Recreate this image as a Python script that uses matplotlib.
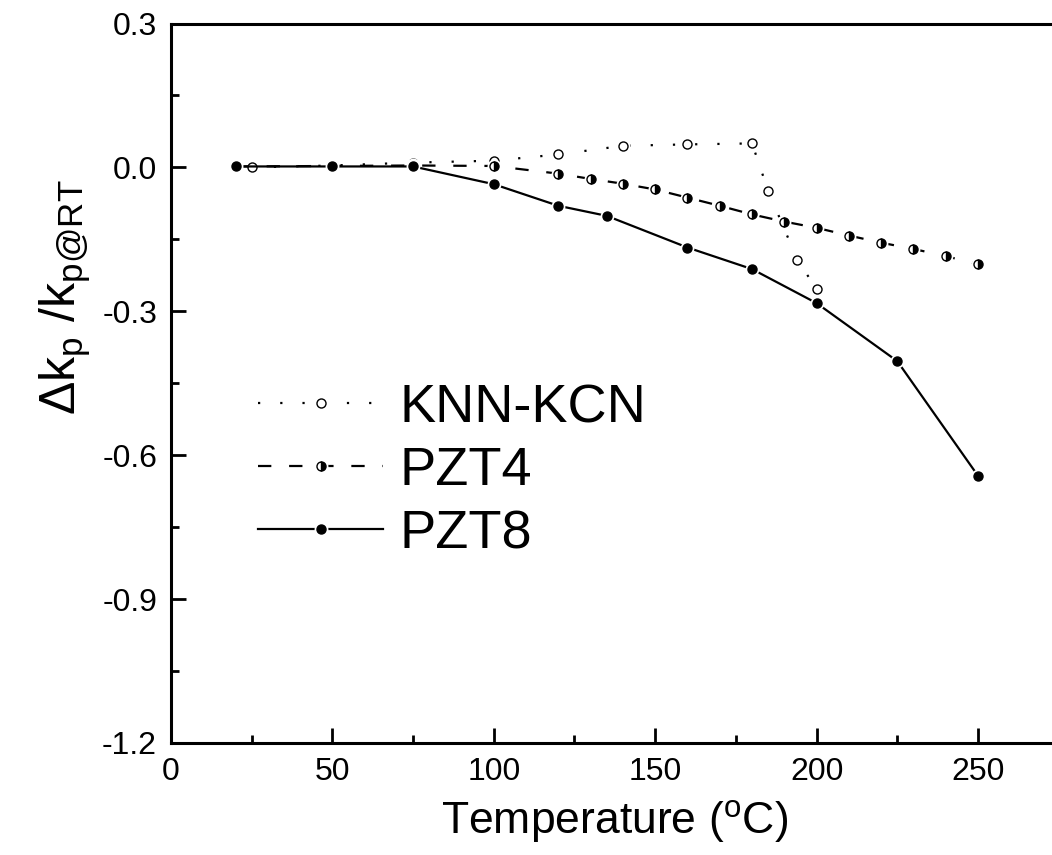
"""Temperature dependence of the planar coupling factor."""

import matplotlib

matplotlib.use("Agg")
import matplotlib.pyplot as plt
from matplotlib.legend_handler import HandlerTuple

plt.rcParams["font.family"] = ["Liberation Sans", "DejaVu Sans"]
plt.rcParams["mathtext.fontset"] = "custom"
plt.rcParams["mathtext.rm"] = "Liberation Sans"
plt.rcParams["mathtext.it"] = "Liberation Sans"

knn_t = [25, 50, 75, 100, 120, 140, 160, 180, 185, 194, 200]
knn_k = [0.0, 0.004, 0.01, 0.014, 0.027, 0.045, 0.048, 0.05, -0.049, -0.192, -0.254]

pzt4_t = [20, 50, 75, 100, 120, 130, 140, 150, 160, 170, 180, 190, 200, 210, 220, 230, 240, 250]
pzt4_k = [0.002, 0.003, 0.004, 0.003, -0.013, -0.024, -0.034, -0.046, -0.063, -0.080,
          -0.098, -0.113, -0.126, -0.142, -0.157, -0.170, -0.185, -0.202]

pzt8_t = [20, 50, 75, 100, 120, 135, 160, 180, 200, 225, 250]
pzt8_k = [0.002, 0.002, 0.002, -0.035, -0.080, -0.101, -0.167, -0.212, -0.283, -0.404, -0.643]

labels = ["KNN-KCN", "PZT4", "PZT8"]
x_ticks = [0, 50, 100, 150, 200, 250]
y_ticks = [0.3, 0.0, -0.3, -0.6, -0.9, -1.2]

styles = [
    dict(linestyle=(0, (1, 9)), mk=dict(mfc="white", mec="black", mew=1.0)),
    dict(linestyle=(0, (6, 8)), mk=dict(fillstyle="right", mfc="black", mfcalt="white",
                                         mec="black", mew=1.0)),
    dict(linestyle="-", mk=dict(mfc="black", mec="black")),
]

fig = plt.figure(figsize=(10.52, 8.55), dpi=100)
ax = fig.add_axes([0.1625, 0.131, 0.8439, 0.8415])

handles = []
for (t, k), st in zip([(knn_t, knn_k), (pzt4_t, pzt4_k), (pzt8_t, pzt8_k)], styles):
    ln, = ax.plot(t, k, linestyle=st["linestyle"], color="black", lw=1.6)
    gap, = ax.plot(t, k, linestyle="none", marker="o", ms=10, mfc="white", mec="none")
    mk, = ax.plot(t, k, linestyle="none", marker="o", ms=6.5, **st["mk"])
    handles.append((ln, gap, mk))

ax.set_xlim(0, 275)
ax.set_ylim(-1.2, 0.3)
ax.set_xticks(x_ticks)
ax.set_xticks([25, 75, 125, 175, 225, 275], minor=True)
ax.set_yticks(y_ticks)
ax.set_yticks([0.15, -0.15, -0.45, -0.75, -1.05], minor=True)
ax.set_xticklabels([str(v) for v in x_ticks])
ax.set_yticklabels(["%.1f" % v for v in y_ticks])

for side in ["left", "bottom", "top", "right"]:
    ax.spines[side].set_linewidth(2.2)
ax.tick_params(which="both", direction="in", width=2.0, labelsize=23, pad=10)
ax.tick_params(which="major", length=11)
ax.tick_params(which="minor", length=6)

ax.set_xlabel(r"Temperature ($^{\rm o}$C)", fontsize=32, labelpad=8)
ax.set_ylabel(r"$\Delta$k$_{\rm p}$ /k$_{\rm p@RT}$", fontsize=36)
ax.yaxis.set_label_coords(-0.088, 0.62)

ax.legend(handles, labels, handler_map={tuple: HandlerTuple(ndivide=1, pad=0)},
          loc="upper left", bbox_to_anchor=(0.098, 0.5), frameon=False,
          fontsize=39, handlelength=2.31, handletextpad=0.31, labelspacing=0.24,
          borderpad=0, borderaxespad=0)

fig.savefig("out.png", dpi=100)
